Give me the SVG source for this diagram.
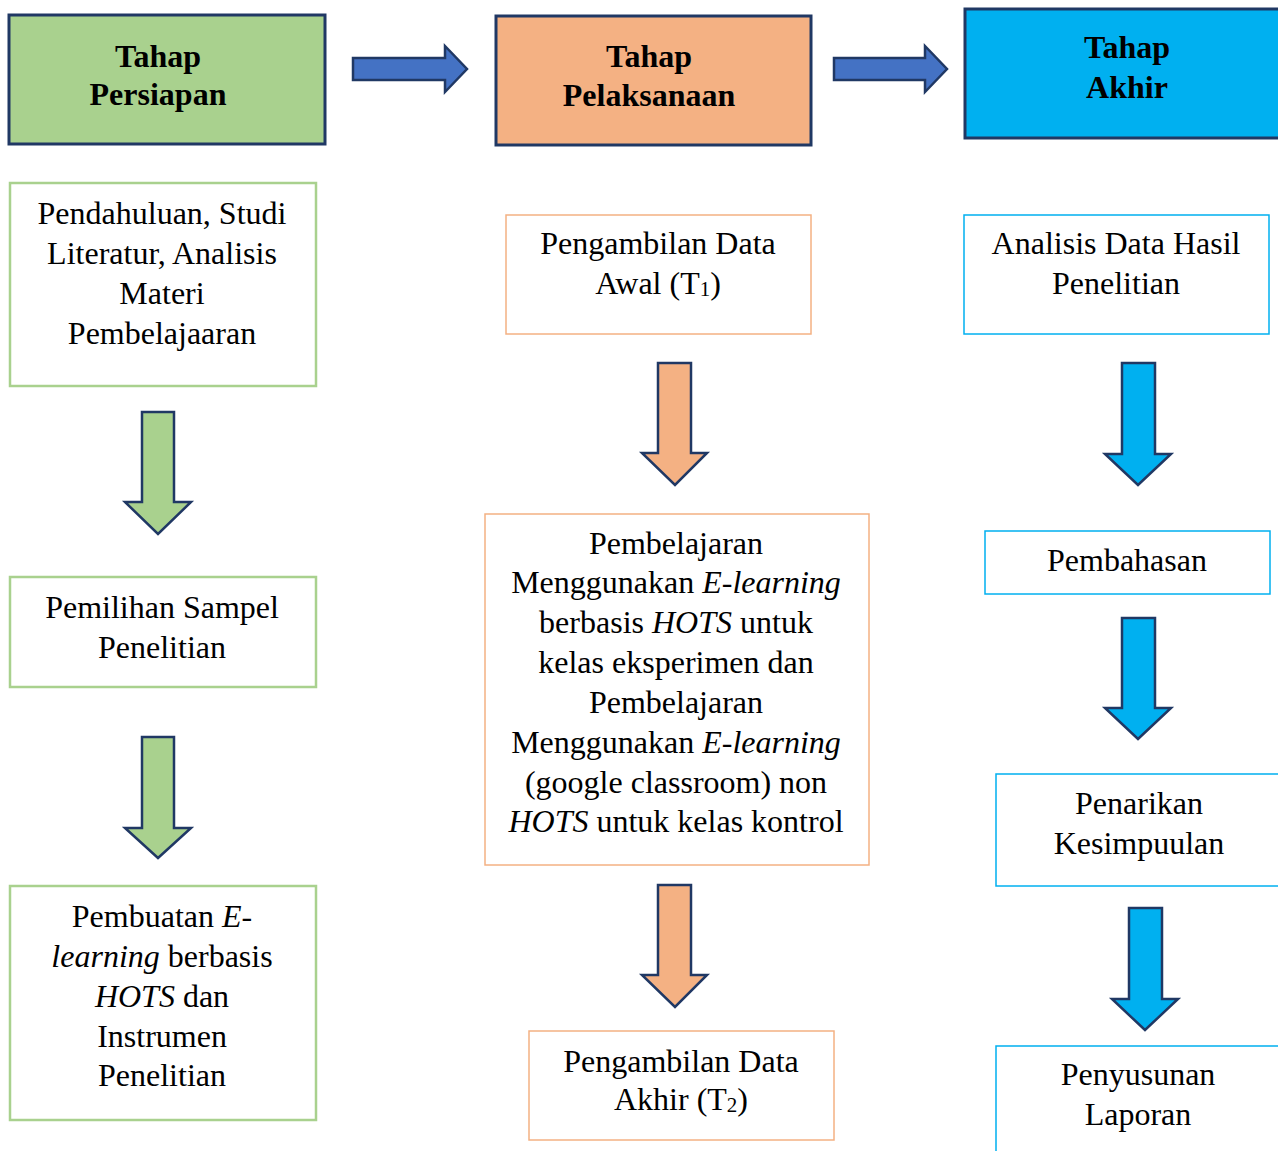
<svg xmlns="http://www.w3.org/2000/svg" width="1278" height="1151" viewBox="0 0 1278 1151">
<style>
text{font-family:"Liberation Serif","Times New Roman",serif;font-size:32px;fill:#000;text-anchor:middle}
.h{font-weight:bold}
.i{font-style:italic}
.sub{font-size:21px}
.hdr{stroke:#203864;stroke-width:3}
.bg{fill:#fff;stroke:#A9D18E;stroke-width:2.5}
.bo{fill:#fff;stroke:#F4B183;stroke-width:1.5}
.bb{fill:#fff;stroke:#00B0F0;stroke-width:1.5}
.arr{stroke:#203864;stroke-width:2.5;stroke-linejoin:miter}
</style>
<rect width="1278" height="1151" fill="#fff"/>
<g id="connectors">
<path class="arr" fill="#4472C4" d="M353,58 H445 V46 L467,69 L445,92 V80 H353 Z"/>
<path class="arr" fill="#4472C4" d="M834,58 H925 V46 L947,69 L925,92 V80 H834 Z"/>
<path class="arr" fill="#A9D18E" d="M142,412 H174 V502 H191 L158,534 L125,502 H142 Z"/>
<path class="arr" fill="#A9D18E" d="M142,737 H174 V828 H191 L158,858 L125,828 H142 Z"/>
<path class="arr" fill="#F4B183" d="M658,363 H691 V453 H707 L675,485 L642,453 H658 Z"/>
<path class="arr" fill="#F4B183" d="M658,885 H691 V975 H707 L675,1007 L642,975 H658 Z"/>
<path class="arr" fill="#00B0F0" d="M1122,363 H1155 V454 H1171 L1138,485 L1105,454 H1122 Z"/>
<path class="arr" fill="#00B0F0" d="M1122,618 H1155 V708 H1171 L1138,739 L1105,708 H1122 Z"/>
<path class="arr" fill="#00B0F0" d="M1129,908 H1162 V999 H1178 L1145,1030 L1112,999 H1129 Z"/>
</g>
<g id="tahap-persiapan">
<rect class="hdr" x="9" y="15" width="316" height="129" fill="#A9D18E"/>
<text class="h" x="158" y="67">Tahap</text>
<text class="h" x="158" y="105">Persiapan</text>
</g>
<g id="tahap-pelaksanaan">
<rect class="hdr" x="496" y="16" width="315" height="129" fill="#F4B183"/>
<text class="h" x="649" y="67">Tahap</text>
<text class="h" x="649" y="106">Pelaksanaan</text>
</g>
<g id="tahap-akhir">
<rect class="hdr" x="965" y="9" width="330" height="129" fill="#00B0F0"/>
<text class="h" x="1127" y="58">Tahap</text>
<text class="h" x="1127" y="98">Akhir</text>
</g>
<g id="pendahuluan">
<rect class="bg" x="10" y="183" width="306" height="203"/>
<text x="162" y="224">Pendahuluan, Studi</text>
<text x="162" y="264">Literatur, Analisis</text>
<text x="162" y="304">Materi</text>
<text x="162" y="344">Pembelajaaran</text>
</g>
<g id="pemilihan-sampel">
<rect class="bg" x="10" y="577" width="306" height="110"/>
<text x="162" y="618">Pemilihan Sampel</text>
<text x="162" y="658">Penelitian</text>
</g>
<g id="pembuatan-elearning">
<rect class="bg" x="10" y="886" width="306" height="234"/>
<text x="162" y="927">Pembuatan <tspan class="i">E-</tspan></text>
<text x="162" y="967"><tspan class="i">learning</tspan> berbasis</text>
<text x="162" y="1007"><tspan class="i">HOTS</tspan> dan</text>
<text x="162" y="1047">Instrumen</text>
<text x="162" y="1086">Penelitian</text>
</g>
<g id="data-awal">
<rect class="bo" x="506" y="215" width="305" height="119"/>
<text x="658" y="254">Pengambilan Data</text>
<text x="658" y="294">Awal (T<tspan class="sub" dy="2">1</tspan><tspan dy="-2">)</tspan></text>
</g>
<g id="pembelajaran">
<rect class="bo" x="485" y="514" width="384" height="351"/>
<text x="676" y="554">Pembelajaran</text>
<text x="676" y="593">Menggunakan <tspan class="i">E-learning</tspan></text>
<text x="676" y="633">berbasis <tspan class="i">HOTS</tspan> untuk</text>
<text x="676" y="673">kelas eksperimen dan</text>
<text x="676" y="713">Pembelajaran</text>
<text x="676" y="753">Menggunakan <tspan class="i">E-learning</tspan></text>
<text x="676" y="793">(google classroom) non</text>
<text x="676" y="832"><tspan class="i">HOTS</tspan> untuk kelas kontrol</text>
</g>
<g id="data-akhir">
<rect class="bo" x="529" y="1031" width="305" height="109"/>
<text x="681" y="1072">Pengambilan Data</text>
<text x="681" y="1110">Akhir (T<tspan class="sub" dy="2">2</tspan><tspan dy="-2">)</tspan></text>
</g>
<g id="analisis-data">
<rect class="bb" x="964" y="215" width="305" height="119"/>
<text x="1116" y="254">Analisis Data Hasil</text>
<text x="1116" y="294">Penelitian</text>
</g>
<g id="pembahasan">
<rect class="bb" x="985" y="531" width="285" height="63"/>
<text x="1127" y="571">Pembahasan</text>
</g>
<g id="penarikan-kesimpulan">
<rect class="bb" x="996" y="774" width="300" height="112"/>
<text x="1139" y="814">Penarikan</text>
<text x="1139" y="854">Kesimpuulan</text>
</g>
<g id="penyusunan-laporan">
<rect class="bb" x="996" y="1046" width="300" height="120"/>
<text x="1138" y="1085">Penyusunan</text>
<text x="1138" y="1125">Laporan</text>
</g>
</svg>
